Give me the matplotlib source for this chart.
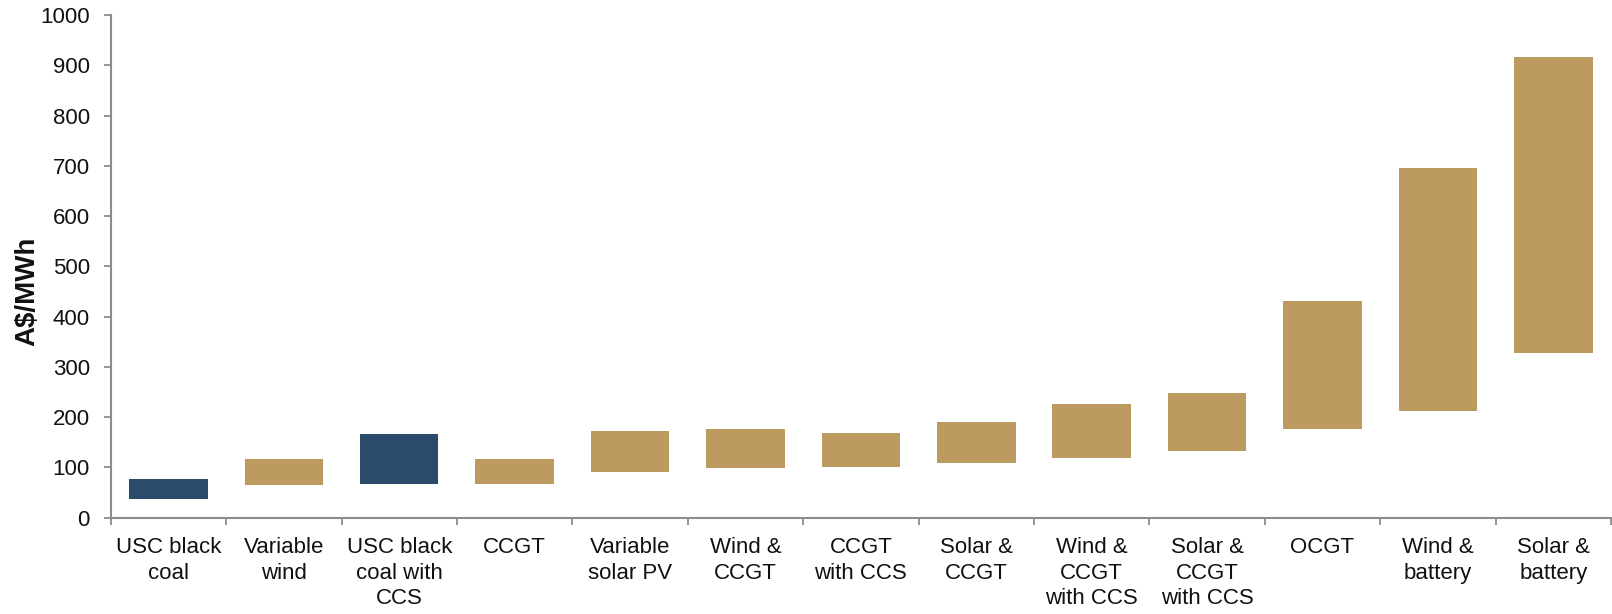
import numpy as np
import matplotlib
matplotlib.use("Agg")
import matplotlib.pyplot as plt
from matplotlib.ticker import FixedLocator, MultipleLocator

plt.rcParams['font.family'] = ['Liberation Sans', 'DejaVu Sans']

categories = ['USC black\ncoal', 'Variable\nwind', 'USC black\ncoal with\nCCS', 'CCGT',
              'Variable\nsolar PV', 'Wind &\nCCGT', 'CCGT\nwith CCS', 'Solar &\nCCGT',
              'Wind &\nCCGT\nwith CCS', 'Solar &\nCCGT\nwith CCS', 'OCGT', 'Wind &\nbattery',
              'Solar &\nbattery']
low = [38, 65, 68, 68, 90, 98, 100, 109, 119, 133, 177, 212, 328]
high = [78, 116, 166, 116, 172, 176, 168, 190, 226, 248, 431, 696, 916]
is_coal = [True, False, True, False, False, False, False, False, False, False, False, False, False]

NAVY = '#2A4B69'
TAN = '#BD9A60'
GREY = '#8C8C8C'

fig = plt.figure(figsize=(16.12, 6.14), dpi=100)
ax = fig.add_axes([0.0687, 0.1568, 0.9307, 0.8188])

x = np.arange(len(categories))
colors = [NAVY if c else TAN for c in is_coal]
heights = np.array(high) - np.array(low)
ax.bar(x, heights, bottom=low, width=0.68, color=colors, edgecolor='none', linewidth=0)

ax.set_xlim(-0.5, len(categories) - 0.5)
ax.set_ylim(0, 1000)
ax.yaxis.set_major_locator(MultipleLocator(100))

ax.set_xticks(x)
ax.set_xticklabels(categories, fontsize=16, linespacing=1.28, color='#111111')
ax.xaxis.set_minor_locator(FixedLocator(np.arange(-0.5, len(categories), 1.0)))
ax.tick_params(axis='x', which='major', length=0, pad=14)
ax.tick_params(axis='x', which='minor', length=5, width=1.3, color=GREY, direction='out')
ax.tick_params(axis='y', length=5, width=1.3, color=GREY, pad=10, labelsize=16,
               labelcolor='#111111')

for side in ['top', 'right']:
    ax.spines[side].set_visible(False)
for side in ['left', 'bottom']:
    ax.spines[side].set_color(GREY)
    ax.spines[side].set_linewidth(1.5)

ax.set_ylabel('A$/MWh', fontsize=20, fontweight='bold', color='#111111')
ax.yaxis.set_label_coords(-0.047, 0.45)

fig.savefig('out.png', dpi=100)
